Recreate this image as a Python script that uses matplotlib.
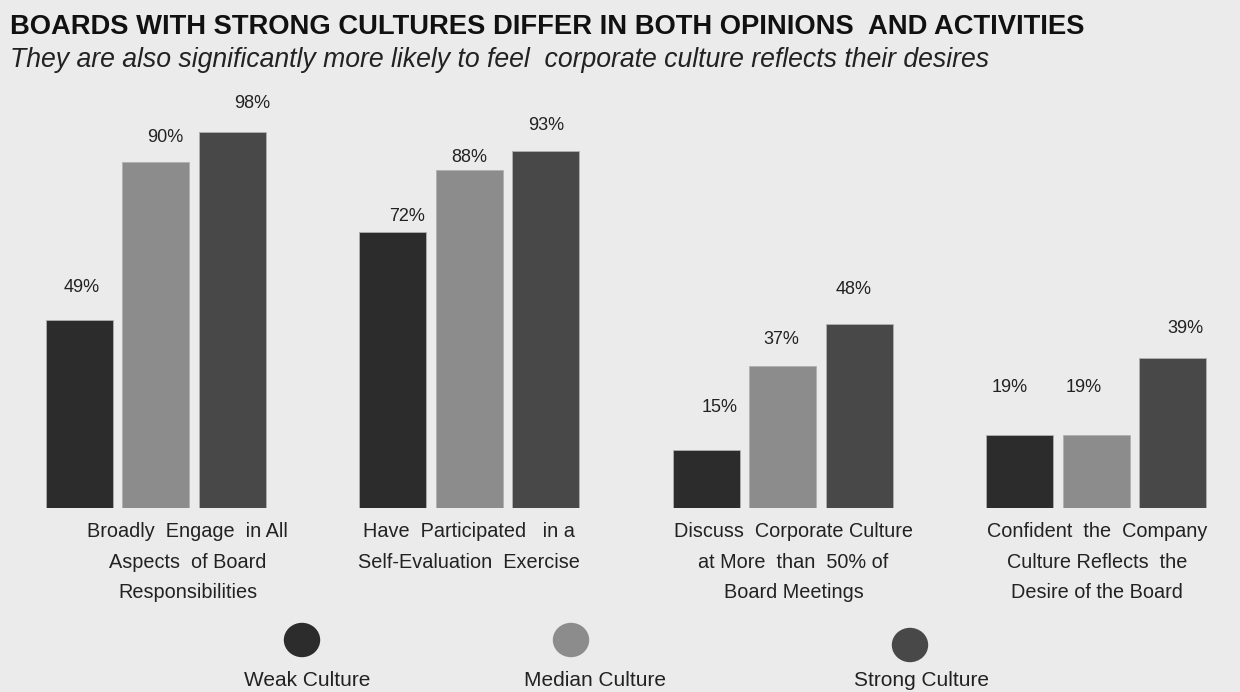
import matplotlib
matplotlib.use("Agg")
import matplotlib.pyplot as plt
from matplotlib.patches import Ellipse
import numpy as np

plt.rcParams['font.family'] = ['Liberation Sans', 'DejaVu Sans']

categories = [
    "Broadly  Engage  in All\nAspects  of Board\nResponsibilities",
    "Have  Participated   in a\nSelf-Evaluation  Exercise",
    "Discuss  Corporate Culture\nat More  than  50% of\nBoard Meetings",
    "Confident  the  Company\nCulture Reflects  the\nDesire of the Board",
]
series_names = ["Weak Culture", "Median Culture", "Strong Culture"]
weak = [49, 72, 15, 19]
median = [90, 88, 37, 19]
strong = [98, 93, 48, 39]
values = [weak, median, strong]

# styling
colors = ["#2c2c2c", "#8c8c8c", "#484848"]
bg = "#ebebeb"
# value-label placement tweaks (pixels) per series x group
label_dy = [[32, 15, 43, 48], [25, 13, 26, 48], [28, 25, 34, 30]]
label_dx = [[3, 15, 14, -10], [10, 0, -1, -12], [20, 1, -5, 13]]

W, H = 1240, 692
fig = plt.figure(figsize=(W / 100, H / 100), dpi=100, facecolor=bg)

base_px = 508
top_px = 100
ax = fig.add_axes([0, (H - base_px) / H, 1, (base_px - top_px) / H])
ax.patch.set_alpha(0)
group_px = 313.5
x0_px = 155.5
ax.set_xlim(-x0_px / group_px, (W - x0_px) / group_px)
ax.set_ylim(0, (base_px - top_px) / 3.84)
for s in ax.spines.values():
    s.set_visible(False)
ax.set_xticks([])
ax.set_yticks([])

x = np.arange(len(categories))
bw = 67 / group_px
off = 76.5 / group_px
for i, (vals, c) in enumerate(zip(values, colors)):
    pos = x + (i - 1) * off
    ax.bar(pos, vals, width=bw, color=c, edgecolor="#b0b0b0", linewidth=0.6)
    for j, (p, v) in enumerate(zip(pos, vals)):
        ax.annotate(f"{v}%", (p, v),
                    xytext=(label_dx[i][j] * 0.72, label_dy[i][j] * 0.72),
                    textcoords="offset points",
                    ha="center", va="center", fontsize=13, color="#222222")

# category labels
cat_dx = [32 / group_px, 0, 11 / group_px, 1 / group_px]
for xi, lab, dx in zip(x, categories, cat_dx):
    ax.text(xi + dx, -3.6, lab, ha="center", va="top", fontsize=14.3,
            color="#222222", linespacing=1.78)

# title / subtitle
fig.text(10 / W, 1 - 27 / H, "BOARDS WITH STRONG CULTURES DIFFER IN BOTH OPINIONS  AND ACTIVITIES",
         fontsize=19.7, fontweight="bold", ha="left", va="center", color="#111111")
fig.text(10 / W, 1 - 60 / H, "They are also significantly more likely to feel  corporate culture reflects their desires",
         fontsize=19.2, style="italic", ha="left", va="center", color="#222222")

# legend
lax = fig.add_axes([0, 0, 1, 1])
lax.set_xlim(0, W)
lax.set_ylim(H, 0)
lax.axis("off")
leg_cx = [302, 571, 910]
leg_cy = [640, 640, 645]
leg_tx = [307, 595, 922]
for cx, cy, tx, c, name in zip(leg_cx, leg_cy, leg_tx, colors, series_names):
    lax.add_patch(Ellipse((cx, cy), 35, 33, color=c))
    lax.text(tx, 680, name, ha="center", va="center", fontsize=15, color="#222222")

fig.savefig("out.png", dpi=100, facecolor=bg)
